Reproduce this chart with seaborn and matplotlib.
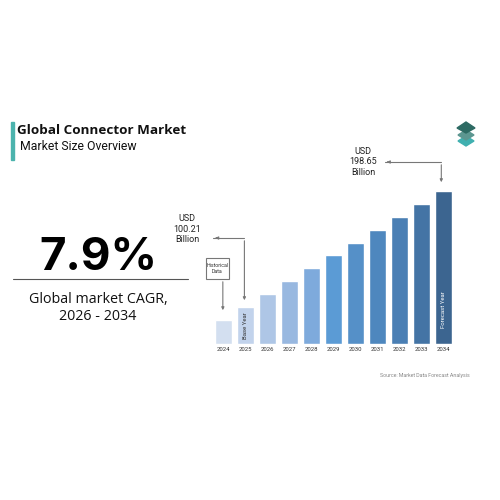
import matplotlib
matplotlib.use("Agg")
import matplotlib.pyplot as plt
import seaborn as sns
import pandas as pd
from matplotlib.patches import Rectangle, Polygon

years = ['2024', '2025', '2026', '2027', '2028', '2029', '2030', '2031', '2032', '2033', '2034']
# bar heights as drawn (infographic, not to scale)
heights = [24, 37, 50, 63, 76, 89, 101, 114, 127, 140, 153]
colors = ['#d3dff0', '#c2d3ec', '#aec6e6', '#98b8e0', '#7eaadc', '#5b9bd5',
          '#5590c8', '#4e87be', '#4a7fb4', '#4474a5', '#3c6590']
start_label = 'USD\n100.21\nBillion'
end_label = 'USD\n198.65\nBillion'
title = 'Global Connector Market'
subtitle = 'Market Size Overview'
cagr = '7.9%'
cagr_text = 'Global market CAGR,\n2026 - 2034'
source = 'Source: Market Data Forecast Analysis'

sns.set_style('white')
plt.rcParams['font.family'] = ['Open Sans', 'DejaVu Sans']

df = pd.DataFrame({'Year': years, 'Size': heights})

fig = plt.figure(figsize=(5, 5), dpi=100)

# overlay in pixel coordinates for free text
bg = fig.add_axes([0, 0, 1, 1])
bg.set_xlim(0, 500)
bg.set_ylim(500, 0)
bg.axis('off')

ax = fig.add_axes([212.5 / 500, 1 - 344 / 500, 242 / 500, 160 / 500])
sns.barplot(data=df, x='Year', y='Size', hue='Year', palette=colors, legend=False,
            width=0.78, ax=ax, saturation=1)
ax.set_ylim(0, 160)
ax.set_xlim(-0.5, 10.5)
sns.despine(ax=ax, left=True, bottom=True)
ax.set_yticks([])
ax.set_xlabel('')
ax.set_ylabel('')
ax.tick_params(axis='x', length=0, labelsize=4.3, colors='#333333', pad=2)
for t in ax.get_xticklabels():
    t.set_family('Roboto')

# inside bar labels
ax.text(1, heights[1] / 2, 'Base Year', rotation=90, ha='center', va='center',
        fontsize=4.3, color='#333333', family='Roboto')
ax.text(10, 34, 'Forecast Year', rotation=90, ha='center', va='center',
        fontsize=4.3, color='white', family='Roboto')

# connectors
lc = '#777777'
ax.plot([-0.48, 0.95], [106, 106], color=lc, lw=0.8, clip_on=False)
ax.annotate('', xy=(0.95, heights[1] + 4), xytext=(0.95, 106),
            arrowprops=dict(arrowstyle='-|>', color=lc, lw=0.8, mutation_scale=4), annotation_clip=False)
ax.annotate('', xy=(-0.03, heights[0] + 7), xytext=(-0.03, 65),
            arrowprops=dict(arrowstyle='-|>', color=lc, lw=0.8, mutation_scale=4), annotation_clip=False)
ax.add_patch(Rectangle((-0.8, 65), 1.05, 21, fill=False, ec=lc, lw=0.8, clip_on=False))
ax.text(-0.275, 75.5, 'Historical\nData', ha='center', va='center', fontsize=3.8,
        color='#333333', family='Roboto', linespacing=1.4)
ax.plot([7.35, 9.9], [182, 182], color=lc, lw=0.8, clip_on=False)
ax.annotate('', xy=(7.3, 182), xytext=(7.6, 182),
            arrowprops=dict(arrowstyle='-|>', color=lc, lw=0.8, mutation_scale=4), annotation_clip=False)
ax.annotate('', xy=(-0.5, 106), xytext=(-0.2, 106),
            arrowprops=dict(arrowstyle='-|>', color=lc, lw=0.8, mutation_scale=4), annotation_clip=False)
ax.annotate('', xy=(9.9, heights[10] + 6), xytext=(9.9, 182),
            arrowprops=dict(arrowstyle='-|>', color=lc, lw=0.8, mutation_scale=4), annotation_clip=False)

bg.text(187, 229, start_label, ha='center', va='center', fontsize=6.5, color='#222222',
        family='Roboto', linespacing=1.25)
bg.text(363, 162, end_label, ha='center', va='center', fontsize=6.5, color='#222222',
        family='Roboto', linespacing=1.25)

# header
bg.add_patch(Rectangle((11, 122), 2.5, 38, color='#4bb3ad'))
bg.text(17, 130, title, ha='left', va='center', fontsize=9.7, fontweight='bold', color='#111111')
bg.text(20, 146, subtitle, ha='left', va='center', fontsize=8.8, color='#111111', family='Roboto')

# logo
bg.add_patch(Polygon([[466, 146], [474, 141], [466, 136], [458, 141]], color='#40b0b0'))
bg.add_patch(Polygon([[466, 140], [474, 135], [466, 130], [458, 135]], color='#5c9690'))
bg.add_patch(Polygon([[466, 133], [475, 128], [466, 122], [457, 128]], color='#2d6a63'))

# CAGR block
bg.text(98, 258, cagr, ha='center', va='center', fontsize=33, fontweight='bold', color='#000000',
        family='Inter')
bg.plot([13, 188], [279, 279], color='#555555', lw=0.8)
bg.text(98, 308, cagr_text, ha='center', va='center', fontsize=10.3, color='#111111',
        family='Open Sans', linespacing=1.2)

bg.text(425, 375, source, ha='center', va='center', fontsize=3.8, color='#888888', family='Roboto')

fig.savefig('out.png', dpi=100)
